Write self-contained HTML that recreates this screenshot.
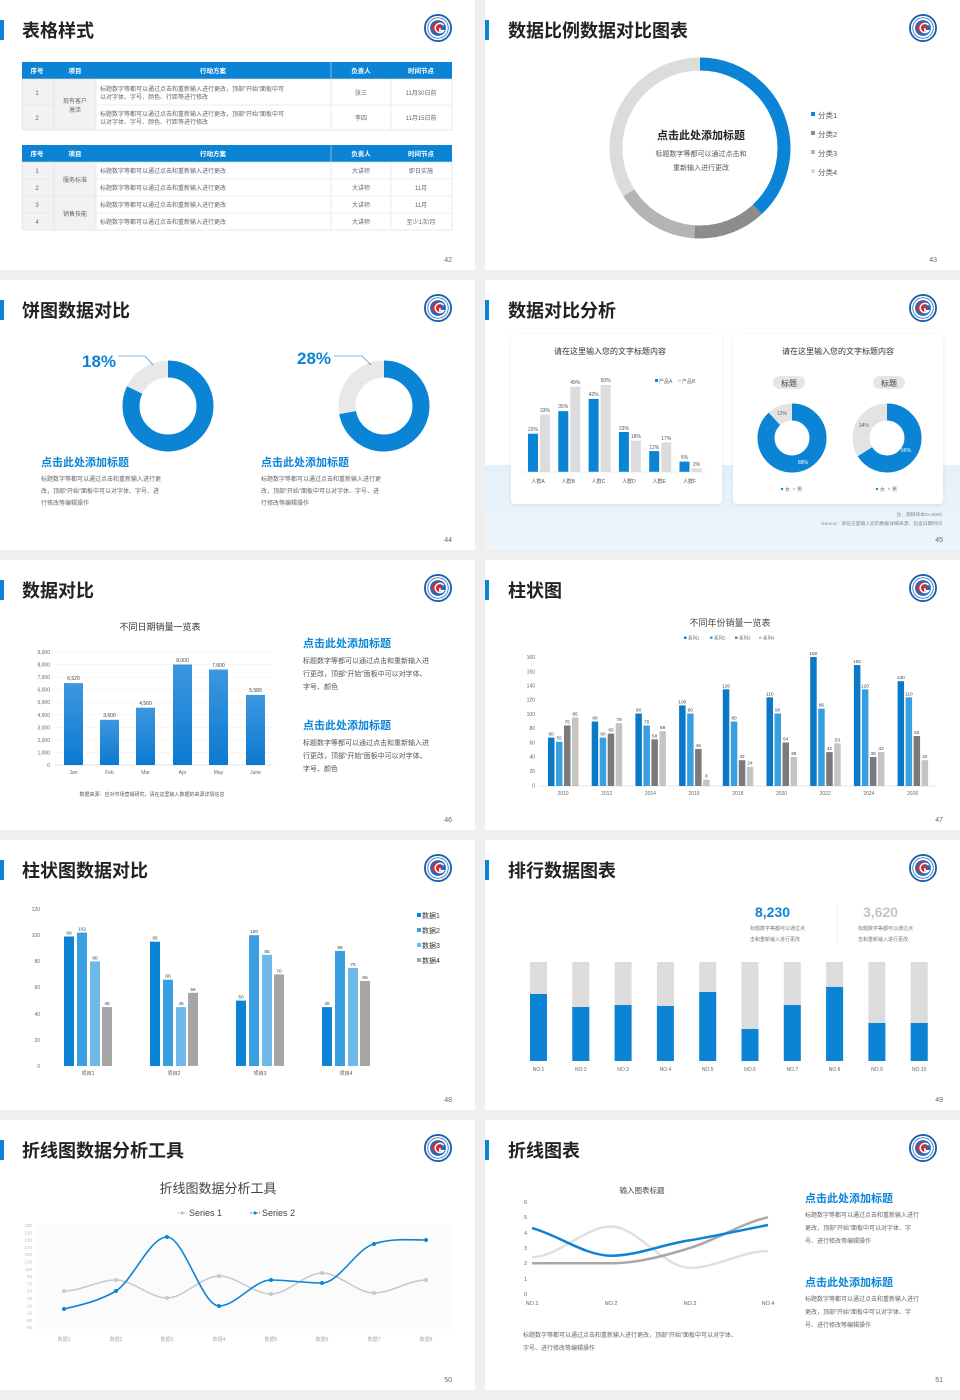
<!DOCTYPE html>
<html><head><meta charset="utf-8">
<style>
html,body{margin:0;padding:0;background:#efefef;}
svg{display:block;}
text{font-family:"Liberation Sans","Noto Sans CJK SC",sans-serif;}
.t{font-size:18px;font-weight:bold;fill:#222;}
.pg{font-size:7px;fill:#666;}
.s{font-size:6px;fill:#666;}
.xs{font-size:5px;fill:#777;}
.h{font-size:11px;font-weight:bold;fill:#0b84d6;}
</style></head>
<body>
<svg width="960" height="1400" viewBox="0 0 960 1400" xmlns="http://www.w3.org/2000/svg">
<defs>
<symbol id="logo" viewBox="-15 -15 30 30">
<circle r="14" fill="#fff" stroke="#1d5fae" stroke-width="2"/>
<circle r="11" fill="#fff" stroke="#1d5fae" stroke-width="0.8"/>
<circle r="8.5" fill="#1a6ec0"/>
<rect x="-7" y="-2.5" width="11" height="5" fill="#e0262b"/>
<rect x="-3.5" y="-6.5" width="5" height="12" fill="#e0262b"/>
<path d="M6,-3 A5,5 0 1 0 6,3 L2,3 L2,0" fill="none" stroke="#fff" stroke-width="1.6"/>
</symbol>
<linearGradient id="bg1" x1="0" y1="0" x2="0" y2="1"><stop offset="0" stop-color="#3d97e0"/><stop offset="1" stop-color="#0b7ad0"/></linearGradient>
<linearGradient id="band" x1="0" y1="0" x2="0" y2="1"><stop offset="0" stop-color="#e4f0f9"/><stop offset="1" stop-color="#eef5fb"/></linearGradient>
<filter id="sh" x="-10%" y="-10%" width="120%" height="120%"><feDropShadow dx="0" dy="1" stdDeviation="2" flood-color="#000" flood-opacity="0.08"/></filter>
</defs>
<rect width="960" height="1400" fill="#efefef"/>

<!-- ===== Slide 42 ===== -->
<g transform="translate(0,0)">
<rect width="475" height="270" fill="#fff"/>
<rect x="0" y="20" width="4" height="20" fill="#0b84d6"/>
<text x="22" y="37" class="t">表格样式</text>
<use href="#logo" x="424" y="14" width="28" height="28"/>
<text x="452" y="262" class="pg" text-anchor="end">42</text>
<!-- table 1 -->
<rect x="22" y="62" width="430" height="17" fill="#0b84d6"/>
<g font-size="6.5" font-weight="bold" fill="#fff" text-anchor="middle">
<text x="37" y="73" fill="#fff">序号</text><text x="75" y="73" fill="#fff">项目</text><text x="213" y="73" fill="#fff">行动方案</text><text x="361" y="73" fill="#fff">负责人</text><text x="421" y="73" fill="#fff">时间节点</text>
</g>
<rect x="22" y="79" width="74" height="51" fill="#f2f2f2"/>
<rect x="96" y="79" width="356" height="51" fill="#fff"/>
<g stroke="#ddd" stroke-width="0.6" fill="none">
<rect x="22" y="79" width="430" height="51"/>
<line x1="22" y1="105" x2="54" y2="105"/><line x1="96" y1="105" x2="452" y2="105"/>
<line x1="54" y1="79" x2="54" y2="130"/><line x1="96" y1="79" x2="96" y2="130"/><line x1="331" y1="62" x2="331" y2="130"/><line x1="391" y1="79" x2="391" y2="130"/>
</g>
<g font-size="6" fill="#666">
<text x="37" y="95" text-anchor="middle">1</text><text x="37" y="120" text-anchor="middle">2</text>
<text x="75" y="103" text-anchor="middle">现有客户</text><text x="75" y="112" text-anchor="middle">激活</text>
<text x="100" y="91">标题数字等都可以通过点击和重新输入进行更改，顶部“开始”面板中可</text>
<text x="100" y="99">以对字体、字号、颜色、行距等进行修改</text>
<text x="100" y="116">标题数字等都可以通过点击和重新输入进行更改，顶部“开始”面板中可</text>
<text x="100" y="124">以对字体、字号、颜色、行距等进行修改</text>
<text x="361" y="95" text-anchor="middle">张三</text><text x="361" y="120" text-anchor="middle">李四</text>
<text x="421" y="95" text-anchor="middle">11月30日前</text><text x="421" y="120" text-anchor="middle">11月15日前</text>
</g>
<!-- table 2 -->
<rect x="22" y="145" width="430" height="17" fill="#0b84d6"/>
<g font-size="6.5" font-weight="bold" text-anchor="middle">
<text x="37" y="156" fill="#fff">序号</text><text x="75" y="156" fill="#fff">项目</text><text x="213" y="156" fill="#fff">行动方案</text><text x="361" y="156" fill="#fff">负责人</text><text x="421" y="156" fill="#fff">时间节点</text>
</g>
<rect x="22" y="162" width="74" height="68" fill="#f2f2f2"/>
<g stroke="#ddd" stroke-width="0.6" fill="none">
<rect x="22" y="162" width="430" height="68"/>
<line x1="22" y1="179" x2="54" y2="179"/><line x1="96" y1="179" x2="452" y2="179"/>
<line x1="22" y1="196" x2="452" y2="196"/>
<line x1="22" y1="213" x2="54" y2="213"/><line x1="96" y1="213" x2="452" y2="213"/>
<line x1="54" y1="162" x2="54" y2="230"/><line x1="96" y1="162" x2="96" y2="230"/><line x1="331" y1="145" x2="331" y2="230"/><line x1="391" y1="162" x2="391" y2="230"/>
</g>
<g font-size="6" fill="#666">
<text x="37" y="173" text-anchor="middle">1</text><text x="37" y="190" text-anchor="middle">2</text><text x="37" y="207" text-anchor="middle">3</text><text x="37" y="224" text-anchor="middle">4</text>
<text x="75" y="182" text-anchor="middle">服务标准</text><text x="75" y="216" text-anchor="middle">销售技能</text>
<text x="100" y="173">标题数字等都可以通过点击和重新输入进行更改</text>
<text x="100" y="190">标题数字等都可以通过点击和重新输入进行更改</text>
<text x="100" y="207">标题数字等都可以通过点击和重新输入进行更改</text>
<text x="100" y="224">标题数字等都可以通过点击和重新输入进行更改</text>
<text x="361" y="173" text-anchor="middle">大讲师</text><text x="361" y="190" text-anchor="middle">大讲师</text><text x="361" y="207" text-anchor="middle">大讲师</text><text x="361" y="224" text-anchor="middle">大讲师</text>
<text x="421" y="173" text-anchor="middle">即日实施</text><text x="421" y="190" text-anchor="middle">11月</text><text x="421" y="207" text-anchor="middle">11月</text><text x="421" y="224" text-anchor="middle">至少1次/月</text>
</g>
</g>

<!-- ===== Slide 43 ===== -->
<g transform="translate(485,0)">
<rect width="475" height="270" fill="#fff"/>
<rect x="0" y="20" width="4" height="20" fill="#0b84d6"/>
<text x="23" y="37" class="t">数据比例数据对比图表</text>
<use href="#logo" x="424" y="14" width="28" height="28"/>
<text x="452" y="262" class="pg" text-anchor="end">43</text>
<g transform="translate(215,148) rotate(-90)" fill="none" stroke-width="13">
<circle r="84" stroke="#dcdcdc"/>
<circle r="84" stroke="#0b84d6" stroke-dasharray="200.6 527.8"/>
<circle r="84" stroke="#8c8c8c" stroke-dasharray="68.6 527.8" stroke-dashoffset="-200.6"/>
<circle r="84" stroke="#b4b4b4" stroke-dasharray="79.2 527.8" stroke-dashoffset="-269.2"/>
</g>
<text x="216" y="139" text-anchor="middle" font-size="11" font-weight="bold" fill="#222">点击此处添加标题</text>
<text x="216" y="156" text-anchor="middle" font-size="7" fill="#555">标题数字等都可以通过点击和</text>
<text x="216" y="170" text-anchor="middle" font-size="7" fill="#555">重新输入进行更改</text>
<g font-size="7.5" fill="#555">
<rect x="326" y="112" width="4" height="4" fill="#0b84d6"/><text x="333" y="118">分类1</text>
<rect x="326" y="131" width="4" height="4" fill="#8c8c8c"/><text x="333" y="137">分类2</text>
<rect x="326" y="150" width="4" height="4" fill="#b4b4b4"/><text x="333" y="156">分类3</text>
<rect x="326" y="169" width="4" height="4" fill="#dcdcdc"/><text x="333" y="175">分类4</text>
</g>
</g>

<!-- ===== Slide 44 ===== -->
<g transform="translate(0,280)">
<rect width="475" height="270" fill="#fff"/>
<rect x="0" y="20" width="4" height="20" fill="#0b84d6"/>
<text x="22" y="37" class="t">饼图数据对比</text>
<use href="#logo" x="424" y="14" width="28" height="28"/>
<text x="452" y="262" class="pg" text-anchor="end">44</text>
<g transform="translate(168,126) rotate(-90)" fill="none" stroke-width="17">
<circle r="37" stroke="#e8e8e8"/>
<circle r="37" stroke="#0b84d6" stroke-dasharray="190.6 232.5"/>
</g>
<g transform="translate(384,126) rotate(-90)" fill="none" stroke-width="17">
<circle r="37" stroke="#e8e8e8"/>
<circle r="37" stroke="#0b84d6" stroke-dasharray="167.4 232.5"/>
</g>
<text x="82" y="87" font-size="17" font-weight="bold" fill="#0b84d6">18%</text>
<polyline points="118,76 145,76 153,85" fill="none" stroke="#0b84d6" stroke-width="0.6"/>
<text x="297" y="84" font-size="17" font-weight="bold" fill="#0b84d6">28%</text>
<polyline points="334,76 362,76 371,85" fill="none" stroke="#0b84d6" stroke-width="0.6"/>
<text x="41" y="186" class="h">点击此处添加标题</text>
<text x="261" y="186" class="h">点击此处添加标题</text>
<g class="s" font-size="6" fill="#666">
<text x="41" y="201">标题数字等都可以通过点击和重新输入进行更</text>
<text x="41" y="213">改，顶部“开始”面板中可以对字体、字号、进</text>
<text x="41" y="225">行修改等编辑操作</text>
<text x="261" y="201">标题数字等都可以通过点击和重新输入进行更</text>
<text x="261" y="213">改，顶部“开始”面板中可以对字体、字号、进</text>
<text x="261" y="225">行修改等编辑操作</text>
</g>
</g>

<!-- ===== Slide 45 ===== -->
<g transform="translate(485,280)">
<rect width="475" height="270" fill="#fff"/>
<rect x="0" y="185" width="475" height="85" fill="url(#band)"/>
<rect x="0" y="20" width="4" height="20" fill="#0b84d6"/>
<text x="23" y="37" class="t">数据对比分析</text>
<use href="#logo" x="424" y="14" width="28" height="28"/>
<text x="458" y="262" class="pg" text-anchor="end">45</text>
<rect x="26" y="54" width="211" height="170" rx="4" fill="#fff" filter="url(#sh)"/>
<rect x="248" y="54" width="210" height="170" rx="4" fill="#fff" filter="url(#sh)"/>
<text x="125" y="74" text-anchor="middle" font-size="8" fill="#333">请在这里输入您的文字标题内容</text>
<g font-size="5" fill="#666">
<rect x="170" y="99" width="3" height="3" fill="#0b84d6"/><text x="174" y="103">产品A</text>
<rect x="193" y="99" width="3" height="3" fill="#ddd"/><text x="197" y="103">产品B</text>
</g>
<g fill="#0b84d6">
<rect x="43" y="153.7" width="10" height="38.3"/><rect x="73.3" y="131.1" width="10" height="60.9"/><rect x="103.6" y="118.9" width="10" height="73.1"/><rect x="133.9" y="152" width="10" height="40"/><rect x="164.2" y="171.1" width="10" height="20.9"/><rect x="194.5" y="181.6" width="10" height="10.4"/>
</g>
<g fill="#dcdcdc">
<rect x="55" y="134.6" width="10" height="57.4"/><rect x="85.3" y="106.7" width="10" height="85.3"/><rect x="115.6" y="105" width="10" height="87"/><rect x="145.9" y="160.7" width="10" height="31.3"/><rect x="176.2" y="162.4" width="10" height="29.6"/><rect x="206.5" y="188.5" width="10" height="3.5"/>
</g>
<line x1="38" y1="192" x2="222" y2="192" stroke="#ddd" stroke-width="0.6"/>
<g font-size="5" fill="#555" text-anchor="middle">
<text x="48" y="151">22%</text><text x="60" y="132">33%</text>
<text x="78.3" y="128">35%</text><text x="90.3" y="104">49%</text>
<text x="108.6" y="116">42%</text><text x="120.6" y="102">50%</text>
<text x="138.9" y="150">23%</text><text x="150.9" y="158">18%</text>
<text x="169.2" y="169">12%</text><text x="181.2" y="160">17%</text>
<text x="199.5" y="179">6%</text><text x="211.5" y="186">2%</text>
<text x="53" y="203">人群A</text><text x="83.3" y="203">人群B</text><text x="113.6" y="203">人群C</text><text x="143.9" y="203">人群D</text><text x="174.2" y="203">人群E</text><text x="204.5" y="203">人群F</text>
</g>
<text x="353" y="74" text-anchor="middle" font-size="8" fill="#333">请在这里输入您的文字标题内容</text>
<rect x="288" y="96" width="32" height="13" rx="6.5" fill="#e6e6e6"/>
<text x="304" y="106" text-anchor="middle" font-size="8" fill="#444">标题</text>
<rect x="388" y="96" width="32" height="13" rx="6.5" fill="#e6e6e6"/>
<text x="404" y="106" text-anchor="middle" font-size="8" fill="#444">标题</text>
<g transform="translate(307,158) rotate(-90)" fill="none" stroke-width="17">
<circle r="26" stroke="#e3e3e3"/><circle r="26" stroke="#0b84d6" stroke-dasharray="143.8 163.4"/>
</g>
<g transform="translate(402,158) rotate(-90)" fill="none" stroke-width="17">
<circle r="26" stroke="#e3e3e3"/><circle r="26" stroke="#0b84d6" stroke-dasharray="107.8 163.4"/>
</g>
<g font-size="5" text-anchor="middle">
<text x="297" y="135" fill="#666">12%</text><text x="318" y="184" fill="#fff">88%</text>
<text x="379" y="147" fill="#666">34%</text><text x="421" y="172" fill="#fff">66%</text>
</g>
<g font-size="5" fill="#666">
<circle cx="297" cy="209" r="1.2" fill="#0b84d6"/><text x="300" y="211">女</text><circle cx="309" cy="209" r="1.2" fill="#ccc"/><text x="312" y="211">男</text>
<circle cx="392" cy="209" r="1.2" fill="#0b84d6"/><text x="395" y="211">女</text><circle cx="404" cy="209" r="1.2" fill="#ccc"/><text x="407" y="211">男</text>
</g>
<text x="457" y="236" text-anchor="end" font-size="4.8" fill="#888">注：调研样本N=5000</text>
<text x="457" y="245" text-anchor="end" font-size="4.8" fill="#888">Source：请在这里输入您的数据详细来源，包含日期时间</text>
</g>

<!-- ===== Slide 46 ===== -->
<g transform="translate(0,560)">
<rect width="475" height="270" fill="#fff"/>
<rect x="0" y="20" width="4" height="20" fill="#0b84d6"/>
<text x="22" y="37" class="t">数据对比</text>
<use href="#logo" x="424" y="14" width="28" height="28"/>
<text x="452" y="262" class="pg" text-anchor="end">46</text>
<text x="160" y="70" text-anchor="middle" font-size="9" fill="#333">不同日期销量一览表</text>
<g stroke="#eee" stroke-width="0.5">
<line x1="55" y1="92" x2="273" y2="92"/><line x1="55" y1="104.6" x2="273" y2="104.6"/><line x1="55" y1="117.1" x2="273" y2="117.1"/><line x1="55" y1="129.7" x2="273" y2="129.7"/><line x1="55" y1="142.2" x2="273" y2="142.2"/><line x1="55" y1="154.8" x2="273" y2="154.8"/><line x1="55" y1="167.3" x2="273" y2="167.3"/><line x1="55" y1="179.9" x2="273" y2="179.9"/><line x1="55" y1="192.4" x2="273" y2="192.4"/><line x1="55" y1="205" x2="273" y2="205" stroke="#ccc"/>
</g>
<g font-size="5" fill="#666" text-anchor="end">
<text x="50" y="94">9,000</text><text x="50" y="106.6">8,000</text><text x="50" y="119.1">7,000</text><text x="50" y="131.7">6,000</text><text x="50" y="144.2">5,000</text><text x="50" y="156.8">4,000</text><text x="50" y="169.3">3,000</text><text x="50" y="181.9">2,000</text><text x="50" y="194.4">1,000</text><text x="50" y="207">0</text>
</g>
<g fill="url(#bg1)">
<rect x="64" y="123.1" width="19" height="81.9"/><rect x="100" y="159.8" width="19" height="45.2"/><rect x="136" y="147.7" width="19" height="57.3"/><rect x="173" y="104.5" width="19" height="100.5"/><rect x="209" y="109.5" width="19" height="95.5"/><rect x="246" y="134.9" width="19" height="70.1"/>
</g>
<g font-size="5" fill="#444" text-anchor="middle">
<text x="73.5" y="120">6,520</text><text x="109.5" y="157">3,600</text><text x="145.5" y="145">4,560</text><text x="182.5" y="102">8,000</text><text x="218.5" y="107">7,600</text><text x="255.5" y="132">5,580</text>
<text x="73.5" y="214" fill="#666">Jan</text><text x="109.5" y="214" fill="#666">Feb</text><text x="145.5" y="214" fill="#666">Mar</text><text x="182.5" y="214" fill="#666">Apr</text><text x="218.5" y="214" fill="#666">May</text><text x="255.5" y="214" fill="#666">June</text>
</g>
<text x="152" y="236" text-anchor="middle" font-size="5" fill="#555">数据来源：应对市场营销研究，请在这里输入数据的来源详情信息</text>
<text x="303" y="87" class="h">点击此处添加标题</text>
<g font-size="7" fill="#555">
<text x="303" y="103">标题数字等都可以通过点击和重新输入进</text>
<text x="303" y="116">行更改，顶部“开始”面板中可以对字体、</text>
<text x="303" y="129">字号、颜色</text>
<text x="303" y="185">标题数字等都可以通过点击和重新输入进</text>
<text x="303" y="198">行更改，顶部“开始”面板中可以对字体、</text>
<text x="303" y="211">字号、颜色</text>
</g>
<text x="303" y="169" class="h">点击此处添加标题</text>
</g>

<!-- ===== Slide 47 ===== -->
<g transform="translate(485,560)">
<rect width="475" height="270" fill="#fff"/>
<rect x="0" y="20" width="4" height="20" fill="#0b84d6"/>
<text x="23" y="37" class="t">柱状图</text>
<use href="#logo" x="424" y="14" width="28" height="28"/>
<text x="458" y="262" class="pg" text-anchor="end">47</text>
<text x="245" y="66" text-anchor="middle" font-size="9" fill="#444">不同年份销量一览表</text>
<g font-size="4.5" fill="#666">
<rect x="199" y="76.5" width="2.5" height="2.5" fill="#0b78c8"/><text x="203" y="79.5">系列1</text>
<rect x="225" y="76.5" width="2.5" height="2.5" fill="#3a9fe0"/><text x="229" y="79.5">系列2</text>
<rect x="250" y="76.5" width="2.5" height="2.5" fill="#7a7a7a"/><text x="254" y="79.5">系列3</text>
<rect x="274" y="76.5" width="2.5" height="2.5" fill="#c4c4c4"/><text x="278" y="79.5">系列4</text>
</g>
<g font-size="5" fill="#666" text-anchor="end">
<text x="50" y="99">160</text><text x="50" y="113.5">150</text><text x="50" y="127.5">140</text><text x="50" y="141.5">120</text><text x="50" y="156">100</text><text x="50" y="170">80</text><text x="50" y="184.5">60</text><text x="50" y="198.5">40</text><text x="50" y="213">20</text><text x="50" y="227.5">0</text>
</g>
<line x1="55" y1="226" x2="450" y2="226" stroke="#ccc" stroke-width="0.5"/>
<g fill="#0b78c8">
<rect x="63" y="177.6" width="6.5" height="48.4"/><rect x="106.7" y="161.5" width="6.5" height="64.5"/><rect x="150.4" y="153.5" width="6.5" height="72.5"/><rect x="194.1" y="145.4" width="6.5" height="80.6"/><rect x="237.8" y="129.3" width="6.5" height="96.7"/><rect x="281.5" y="137.3" width="6.5" height="88.7"/><rect x="325.2" y="97" width="6.5" height="129"/><rect x="368.9" y="105.1" width="6.5" height="120.9"/><rect x="412.6" y="121.2" width="6.5" height="104.8"/>
</g>
<g fill="#3a9fe0">
<rect x="71" y="181.7" width="6.5" height="44.3"/><rect x="114.7" y="177.6" width="6.5" height="48.4"/><rect x="158.4" y="165.5" width="6.5" height="60.5"/><rect x="202.1" y="153.5" width="6.5" height="72.5"/><rect x="245.8" y="161.5" width="6.5" height="64.5"/><rect x="289.5" y="153.5" width="6.5" height="72.5"/><rect x="333.2" y="148.6" width="6.5" height="77.4"/><rect x="376.9" y="129.3" width="6.5" height="96.7"/><rect x="420.6" y="137.3" width="6.5" height="88.7"/>
</g>
<g fill="#7a7a7a">
<rect x="79" y="165.5" width="6.5" height="60.5"/><rect x="122.7" y="173.6" width="6.5" height="52.4"/><rect x="166.4" y="179.3" width="6.5" height="46.7"/><rect x="210.1" y="188.9" width="6.5" height="37.1"/><rect x="253.8" y="200.2" width="6.5" height="25.8"/><rect x="297.5" y="182.5" width="6.5" height="43.5"/><rect x="341.2" y="192.1" width="6.5" height="33.9"/><rect x="384.9" y="197" width="6.5" height="29"/><rect x="428.6" y="176" width="6.5" height="50"/>
</g>
<g fill="#c4c4c4">
<rect x="87" y="157.5" width="6.5" height="68.5"/><rect x="130.7" y="163.1" width="6.5" height="62.9"/><rect x="174.4" y="171.2" width="6.5" height="54.8"/><rect x="218.1" y="219.6" width="6.5" height="6.4"/><rect x="261.8" y="206.7" width="6.5" height="19.3"/><rect x="305.5" y="197" width="6.5" height="29"/><rect x="349.2" y="183.3" width="6.5" height="42.7"/><rect x="392.9" y="192.1" width="6.5" height="33.9"/><rect x="436.6" y="200.2" width="6.5" height="25.8"/>
</g>
<g font-size="4.8" fill="#444" text-anchor="middle">
<text x="66.2" y="175.6">60</text><text x="74.2" y="179.7">55</text><text x="82.2" y="163.5">75</text><text x="90.2" y="155.5">85</text>
<text x="110" y="159.5">80</text><text x="118" y="175.6">60</text><text x="126" y="171.6">65</text><text x="134" y="161.1">78</text>
<text x="153.6" y="151.5">90</text><text x="161.6" y="163.5">75</text><text x="169.6" y="177.3">58</text><text x="177.6" y="169.2">68</text>
<text x="197.3" y="143.4">100</text><text x="205.3" y="151.5">90</text><text x="213.3" y="186.9">46</text><text x="221.3" y="217.6">8</text>
<text x="241" y="127.3">120</text><text x="249" y="159.5">80</text><text x="257" y="198.2">32</text><text x="265" y="204.7">24</text>
<text x="284.7" y="135.3">110</text><text x="292.7" y="151.5">90</text><text x="300.7" y="180.5">54</text><text x="308.7" y="195">36</text>
<text x="328.4" y="95">160</text><text x="336.4" y="146.6">96</text><text x="344.4" y="190.1">42</text><text x="352.4" y="181.3">53</text>
<text x="372.1" y="103.1">150</text><text x="380.1" y="127.3">120</text><text x="388.1" y="195">36</text><text x="396.1" y="190.1">42</text>
<text x="415.8" y="119.2">130</text><text x="423.8" y="135.3">110</text><text x="431.8" y="174">62</text><text x="439.8" y="198.2">32</text>
</g>
<g font-size="5" fill="#666" text-anchor="middle">
<text x="78" y="235">2010</text><text x="121.7" y="235">2012</text><text x="165.4" y="235">2014</text><text x="209.1" y="235">2016</text><text x="252.8" y="235">2018</text><text x="296.5" y="235">2020</text><text x="340.2" y="235">2022</text><text x="383.9" y="235">2024</text><text x="427.6" y="235">2026</text>
</g>
</g>

<!-- ===== Slide 48 ===== -->
<g transform="translate(0,840)">
<rect width="475" height="270" fill="#fff"/>
<rect x="0" y="20" width="4" height="20" fill="#0b84d6"/>
<text x="22" y="37" class="t">柱状图数据对比</text>
<use href="#logo" x="424" y="14" width="28" height="28"/>
<text x="452" y="262" class="pg" text-anchor="end">48</text>
<g font-size="5" fill="#666" text-anchor="end">
<text x="40" y="71">120</text><text x="40" y="97">100</text><text x="40" y="123">80</text><text x="40" y="149">60</text><text x="40" y="176">40</text><text x="40" y="202">20</text><text x="40" y="228">0</text>
</g>
<g fill="#0b84d6">
<rect x="64" y="96.5" width="10" height="129.5"/><rect x="150" y="101.7" width="10" height="124.3"/><rect x="236" y="160.6" width="10" height="65.4"/><rect x="322" y="167.1" width="10" height="58.9"/>
</g>
<g fill="#3a9fe0">
<rect x="77" y="92.6" width="10" height="133.4"/><rect x="163" y="139.7" width="10" height="86.3"/><rect x="249" y="95.2" width="10" height="130.8"/><rect x="335" y="110.9" width="10" height="115.1"/>
</g>
<g fill="#6fb9e8">
<rect x="90" y="121.4" width="10" height="104.6"/><rect x="176" y="167.1" width="10" height="58.9"/><rect x="262" y="114.8" width="10" height="111.2"/><rect x="348" y="127.9" width="10" height="98.1"/>
</g>
<g fill="#a6a6a6">
<rect x="102" y="167.1" width="10" height="58.9"/><rect x="188" y="152.8" width="10" height="73.2"/><rect x="274" y="134.4" width="10" height="91.6"/><rect x="360" y="141" width="10" height="85"/>
</g>
<g font-size="4.8" fill="#444" text-anchor="middle">
<text x="69" y="94.5">99</text><text x="82" y="90.6">102</text><text x="95" y="119.4">80</text><text x="107" y="165.1">45</text>
<text x="155" y="99.7">95</text><text x="168" y="137.7">66</text><text x="181" y="165.1">45</text><text x="193" y="150.8">56</text>
<text x="241" y="158.6">50</text><text x="254" y="93.2">100</text><text x="267" y="112.8">85</text><text x="279" y="132.4">70</text>
<text x="327" y="165.1">45</text><text x="340" y="108.9">88</text><text x="353" y="125.9">75</text><text x="365" y="139">65</text>
</g>
<g font-size="5" fill="#555" text-anchor="middle">
<text x="88" y="235">项目1</text><text x="174" y="235">项目2</text><text x="260" y="235">项目3</text><text x="346" y="235">项目4</text>
</g>
<g font-size="7" fill="#333">
<rect x="417" y="73" width="4" height="4" fill="#0b84d6"/><text x="422" y="78">数据1</text>
<rect x="417" y="88" width="4" height="4" fill="#3a9fe0"/><text x="422" y="93">数据2</text>
<rect x="417" y="103" width="4" height="4" fill="#6fb9e8"/><text x="422" y="108">数据3</text>
<rect x="417" y="118" width="4" height="4" fill="#a6a6a6"/><text x="422" y="123">数据4</text>
</g>
</g>

<!-- ===== Slide 49 ===== -->
<g transform="translate(485,840)">
<rect width="475" height="270" fill="#fff"/>
<rect x="0" y="20" width="4" height="20" fill="#0b84d6"/>
<text x="23" y="37" class="t">排行数据图表</text>
<use href="#logo" x="424" y="14" width="28" height="28"/>
<text x="458" y="262" class="pg" text-anchor="end">49</text>
<text x="270" y="77" font-size="14" font-weight="bold" fill="#0b84d6">8,230</text>
<text x="378" y="77" font-size="14" font-weight="bold" fill="#c4c4c4">3,620</text>
<line x1="352" y1="64" x2="352" y2="103" stroke="#eee" stroke-width="0.8"/>
<g font-size="5" fill="#777">
<text x="265" y="90">标题数字等都可以通过点</text><text x="265" y="101">击和重新输入进行更改</text>
<text x="373" y="90">标题数字等都可以通过点</text><text x="373" y="101">击和重新输入进行更改</text>
</g>
<g fill="#dcdcdc">
<rect x="45" y="122" width="17" height="99"/><rect x="87.3" y="122" width="17" height="99"/><rect x="129.6" y="122" width="17" height="99"/><rect x="171.9" y="122" width="17" height="99"/><rect x="214.2" y="122" width="17" height="99"/><rect x="256.5" y="122" width="17" height="99"/><rect x="298.8" y="122" width="17" height="99"/><rect x="341.1" y="122" width="17" height="99"/><rect x="383.4" y="122" width="17" height="99"/><rect x="425.7" y="122" width="17" height="99"/>
</g>
<g fill="#0b84d6">
<rect x="45" y="154" width="17" height="67"/><rect x="87.3" y="167" width="17" height="54"/><rect x="129.6" y="165" width="17" height="56"/><rect x="171.9" y="166" width="17" height="55"/><rect x="214.2" y="152" width="17" height="69"/><rect x="256.5" y="189" width="17" height="32"/><rect x="298.8" y="165" width="17" height="56"/><rect x="341.1" y="147" width="17" height="74"/><rect x="383.4" y="183" width="17" height="38"/><rect x="425.7" y="183" width="17" height="38"/>
</g>
<g font-size="5" fill="#666" text-anchor="middle">
<text x="53.5" y="231">NO.1</text><text x="95.8" y="231">NO.2</text><text x="138.1" y="231">NO.3</text><text x="180.4" y="231">NO.4</text><text x="222.7" y="231">NO.5</text><text x="265" y="231">NO.6</text><text x="307.3" y="231">NO.7</text><text x="349.6" y="231">NO.8</text><text x="391.9" y="231">NO.9</text><text x="434.2" y="231">NO.10</text>
</g>
</g>

<!-- ===== Slide 50 ===== -->
<g transform="translate(0,1120)">
<rect width="475" height="270" fill="#fff"/>
<rect x="0" y="20" width="4" height="20" fill="#0b84d6"/>
<text x="22" y="37" class="t">折线图数据分析工具</text>
<use href="#logo" x="424" y="14" width="28" height="28"/>
<text x="452" y="262" class="pg" text-anchor="end">50</text>
<text x="218" y="73" text-anchor="middle" font-size="13" fill="#444">折线图数据分析工具</text>
<g font-size="9" fill="#444">
<line x1="177" y1="93" x2="187" y2="93" stroke="#bbb" stroke-width="1" stroke-dasharray="2 1"/><circle cx="182" cy="93" r="1.5" fill="#bbb"/><text x="189" y="96">Series 1</text>
<line x1="250" y1="93" x2="260" y2="93" stroke="#0b84d6" stroke-width="1" stroke-dasharray="2 1"/><circle cx="255" cy="93" r="1.5" fill="#0b84d6"/><text x="262" y="96">Series 2</text>
</g>
<rect x="35" y="104" width="417" height="105" fill="#fbfbfb"/>
<g font-size="4.5" fill="#bbb" text-anchor="end">
<text x="32" y="107">230</text><text x="32" y="114.3">210</text><text x="32" y="121.6">190</text><text x="32" y="128.9">170</text><text x="32" y="136.2">150</text><text x="32" y="143.5">130</text><text x="32" y="150.8">110</text><text x="32" y="158.1">90</text><text x="32" y="165.4">70</text><text x="32" y="172.7">50</text><text x="32" y="180">30</text><text x="32" y="187.3">10</text><text x="32" y="194.6">-10</text><text x="32" y="201.9">-30</text><text x="32" y="209.2">-50</text>
</g>
<path d="M64,171 C81,171 99,160 116,160 C133,160 150,178 167,178 C184,178 202,156 219,156 C236,156 254,174 271,174 C288,174 305,153 322,153 C339,153 357,173 374,173 C391,173 409,160 426,160" fill="none" stroke="#c8c8c8" stroke-width="1.5"/>
<g fill="#c8c8c8"><circle cx="64" cy="171" r="2"/><circle cx="116" cy="160" r="2"/><circle cx="167" cy="178" r="2"/><circle cx="219" cy="156" r="2"/><circle cx="271" cy="174" r="2"/><circle cx="322" cy="153" r="2"/><circle cx="374" cy="173" r="2"/><circle cx="426" cy="160" r="2"/></g>
<path d="M64,189 C81,185 99,181 116,171 C133,160 150,117 167,117 C184,117 202,186 219,186 C236,186 254,160 271,160 C288,160 305,163 322,163 C339,163 357,128 374,124 C391,118 409,120 426,120" fill="none" stroke="#0b84d6" stroke-width="1.6"/>
<g fill="#0b84d6"><circle cx="64" cy="189" r="2"/><circle cx="116" cy="171" r="2"/><circle cx="167" cy="117" r="2"/><circle cx="219" cy="186" r="2"/><circle cx="271" cy="160" r="2"/><circle cx="322" cy="163" r="2"/><circle cx="374" cy="124" r="2"/><circle cx="426" cy="120" r="2"/></g>
<g font-size="5" fill="#aaa" text-anchor="middle">
<text x="64" y="221">数据1</text><text x="116" y="221">数据2</text><text x="167" y="221">数据3</text><text x="219" y="221">数据4</text><text x="271" y="221">数据5</text><text x="322" y="221">数据6</text><text x="374" y="221">数据7</text><text x="426" y="221">数据8</text>
</g>
</g>

<!-- ===== Slide 51 ===== -->
<g transform="translate(485,1120)">
<rect width="475" height="270" fill="#fff"/>
<rect x="0" y="20" width="4" height="20" fill="#0b84d6"/>
<text x="23" y="37" class="t">折线图表</text>
<use href="#logo" x="424" y="14" width="28" height="28"/>
<text x="458" y="262" class="pg" text-anchor="end">51</text>
<text x="157" y="73" text-anchor="middle" font-size="7.5" fill="#444">输入图表标题</text>
<g font-size="5.5" fill="#666" text-anchor="end">
<text x="42" y="84">6</text><text x="42" y="99">5</text><text x="42" y="115">4</text><text x="42" y="130">3</text><text x="42" y="145">2</text><text x="42" y="161">1</text><text x="42" y="176">0</text>
</g>
<path d="M47,137.2 C73,137.2 100,106.5 126,106.5 C152,106.5 179,147.9 205,147.9 C231,147.9 257,131 283,131" fill="none" stroke="#e0e0e0" stroke-width="2.5"/>
<path d="M47,143.3 C73,143.3 100,143.3 126,143.3 C152,143.3 179,136 205,128 C231,120 257,103 283,97.3" fill="none" stroke="#a8a8a8" stroke-width="2.5"/>
<path d="M47,108.1 C73,115 100,135.7 126,135.7 C152,135.7 179,124 205,120.3 C231,116 257,110 283,105" fill="none" stroke="#0b84d6" stroke-width="2.5"/>
<g font-size="5.5" fill="#666" text-anchor="middle">
<text x="47" y="185">NO.1</text><text x="126" y="185">NO.2</text><text x="205" y="185">NO.3</text><text x="283" y="185">NO.4</text>
</g>
<g font-size="6" fill="#666">
<text x="38" y="217">标题数字等都可以通过点击和重新输入进行更改，顶部“开始”面板中可以对字体、</text>
<text x="38" y="230">字号、进行修改等编辑操作</text>
</g>
<text x="320" y="82" class="h">点击此处添加标题</text>
<text x="320" y="166" class="h">点击此处添加标题</text>
<g font-size="6" fill="#666">
<text x="320" y="97">标题数字等都可以通过点击和重新输入进行</text>
<text x="320" y="110">更改，顶部“开始”面板中可以对字体、字</text>
<text x="320" y="123">号、进行修改等编辑操作</text>
<text x="320" y="181">标题数字等都可以通过点击和重新输入进行</text>
<text x="320" y="194">更改，顶部“开始”面板中可以对字体、字</text>
<text x="320" y="207">号、进行修改等编辑操作</text>
</g>
</g>
</svg>
</body></html>
